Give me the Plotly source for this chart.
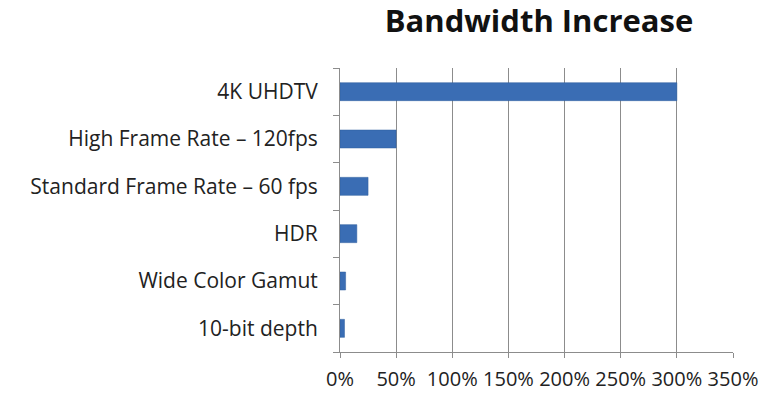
import plotly.graph_objects as go

categories = ["4K UHDTV", "High Frame Rate – 120fps", "Standard Frame Rate – 60 fps",
              "HDR", "Wide Color Gamut", "10-bit depth"]
values = [3.00, 0.50, 0.25, 0.15, 0.05, 0.04]
x_ticks = [0, 0.5, 1.0, 1.5, 2.0, 2.5, 3.0, 3.5]
x_tick_labels = ["0%", "50%", "100%", "150%", "200%", "250%", "300%", "350%"]

fig = go.Figure(go.Bar(
    y=categories, x=values, orientation="h",
    marker=dict(color="#3A6DB4", line=dict(color="#2F5E9E", width=0.5)),
))

fig.update_layout(
    width=766, height=393,
    margin=dict(l=340, r=33, t=68, b=41),
    paper_bgcolor="white", plot_bgcolor="white",
    bargap=0.62,
    showlegend=False,
    title=dict(text="<b>Bandwidth Increase</b>", x=539/766, xanchor="center",
               y=1 - 21/393, yanchor="middle",
               font=dict(family="Open Sans", size=31, color="#111111")),
    font=dict(family="Open Sans", size=21, color="#222222"),
)
fig.update_xaxes(
    range=[0, 3.5], tickvals=x_ticks, ticktext=x_tick_labels,
    tickfont=dict(size=20),
    showgrid=True, gridcolor="#8C8C8C", gridwidth=1,
    showline=True, linecolor="#8C8C8C", linewidth=1,
    ticks="outside", ticklen=5, tickcolor="#8C8C8C",
    zeroline=False, ticklabelstandoff=4, automargin=False,
)
fig.update_yaxes(
    categoryorder="array", categoryarray=categories[::-1],
    showline=True, linecolor="#8C8C8C", linewidth=1,
    ticks="outside", ticklen=6, tickcolor="#8C8C8C", tickson="boundaries",
    showgrid=False, ticklabelstandoff=17, automargin=False,
)

fig.write_html("out.html", config={"displayModeBar": False},
               post_script="document.body.style.margin='0';")
